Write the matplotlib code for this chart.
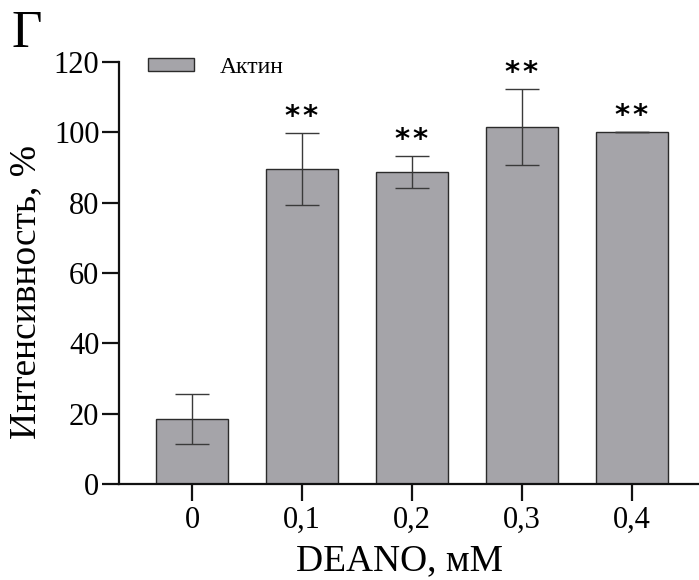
import matplotlib
matplotlib.use("Agg")
import matplotlib.pyplot as plt
import numpy as np

# Data
categories = ["0", "0,1", "0,2", "0,3", "0,4"]
intensity = [18.5, 89.6, 88.8, 101.5, 100.0]
errors = [7.0, 10.3, 4.5, 10.8, 0.0]
significance = ["", "**", "**", "**", "**"]

plt.rcParams["font.family"] = ["Liberation Serif", "DejaVu Serif"]

fig = plt.figure(figsize=(6.99, 5.80), dpi=100)
ax = fig.add_axes([0.170, 0.1655, 0.830, 0.7275])

x = np.arange(len(categories))
bar_color = "#a5a4a9"
ax.bar(x, intensity, width=0.66, color=bar_color, edgecolor="#2b2b2b",
       linewidth=1.0, label="Актин", zorder=2)
ax.errorbar(x, intensity, yerr=errors, fmt="none", ecolor="#3a3a3a",
            elinewidth=1.0, capsize=12.5, capthick=1.0, zorder=3)

# significance marks, stars slightly spaced apart
for xi, v, e, s in zip(x, intensity, errors, significance):
    if s:
        ax.text(xi, v + e + 4.6, "\u200a".join(s), ha="center", va="center",
                fontsize=21, fontweight="bold", family="DejaVu Sans",
                color="#000000")

ax.set_xlim(-0.665, 4.61)
ax.set_ylim(0, 120)
ax.set_yticks([0, 20, 40, 60, 80, 100, 120])
ax.set_xticks(x)
ax.set_xticklabels(categories)

for side in ("top", "right"):
    ax.spines[side].set_visible(False)
for side in ("left", "bottom"):
    ax.spines[side].set_linewidth(1.6)
    ax.spines[side].set_color("#111111")

ax.tick_params(axis="both", length=12, width=1.6, color="#111111",
               labelsize=22)
ax.tick_params(axis="y", pad=2)
ax.tick_params(axis="x", pad=4)

ax.set_xlabel("DEANO, мМ", fontsize=27)
ax.set_ylabel("Интенсивность, %", fontsize=27)
ax.xaxis.set_label_coords(0.4845, -0.142)
ax.yaxis.set_label_coords(-0.131, 0.455)

ax.legend(loc="upper left", bbox_to_anchor=(0.05, 1.012), frameon=False,
          fontsize=17, handlelength=1.95, handleheight=0.5, handletextpad=1.1,
          borderpad=0, borderaxespad=0)

fig.text(0.017, 0.919, "Г", fontsize=38, ha="left", va="baseline")

fig.savefig("out.png", dpi=100)
